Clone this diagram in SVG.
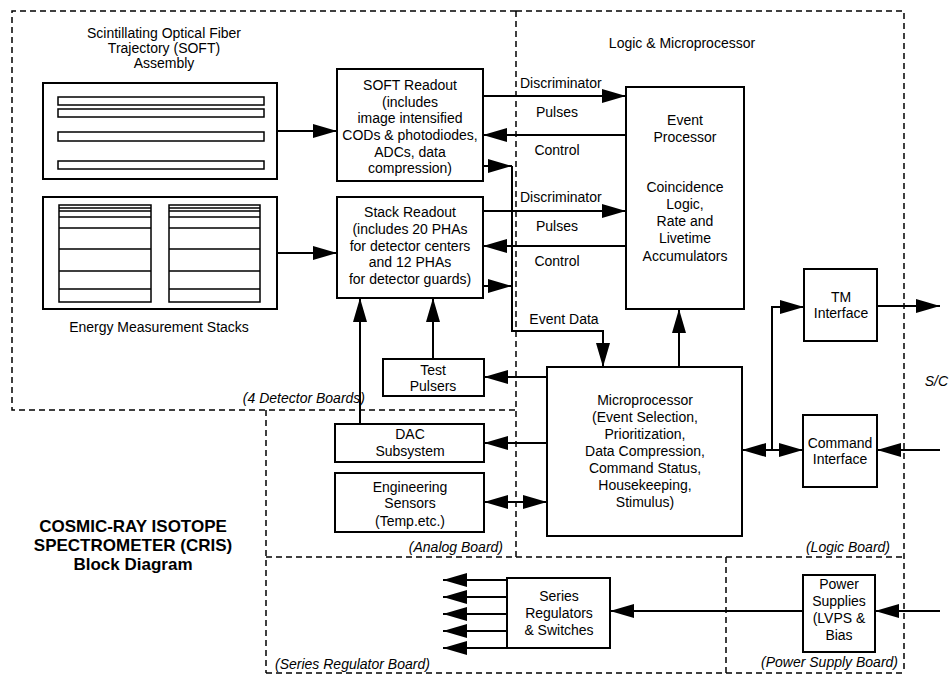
<svg xmlns="http://www.w3.org/2000/svg" width="950" height="675" viewBox="0 0 950 675">
<style>
  text { font-family: "Liberation Sans", Arial, sans-serif; font-size: 14px; fill: #000; }
  .c { text-anchor: middle; }
  .it { font-style: italic; }
  .title { font-weight: bold; font-size: 17px; text-anchor: middle; }
  .box { fill: #fff; stroke: #000; stroke-width: 2; }
  .thin { fill: none; stroke: #000; stroke-width: 1.5; }
  .dash { fill: none; stroke: #000; stroke-width: 1.5; stroke-dasharray: 6 4; }
  .wire { fill: none; stroke: #000; stroke-width: 2; }
  .arr { marker-end: url(#ah); }
  .both { marker-start: url(#ah); marker-end: url(#ah); }
</style>
<defs>
  <marker id="ah" markerUnits="userSpaceOnUse" markerWidth="24" markerHeight="14" refX="24" refY="7" orient="auto-start-reverse">
    <path d="M0,0 L24,7 L0,14 z" fill="#000"/>
  </marker>
</defs>
<rect width="950" height="675" fill="#fff"/>

<g id="boards">
  <path class="dash" d="M516,11 H12 V410 H516"/>
  <path class="dash" d="M516,11 H904 V673"/>
  <path class="dash" d="M516,11 V557"/>
  <path class="dash" d="M266,410 V673"/>
  <path class="dash" d="M266,557 H904"/>
  <path class="dash" d="M266,673 H904"/>
  <path class="dash" d="M726,557 V673"/>
  <text class="it" x="365" y="403" text-anchor="end">(4 Detector Boards)</text>
  <text class="it" x="503" y="552" text-anchor="end">(Analog Board)</text>
  <text class="it" x="890" y="552" text-anchor="end">(Logic Board)</text>
  <text class="it" x="275" y="669">(Series Regulator Board)</text>
  <text class="it" x="898" y="667" text-anchor="end">(Power Supply Board)</text>
  <text class="c" x="682" y="48">Logic &amp; Microprocessor</text>
  <text class="it" x="948" y="386" text-anchor="end">S/C</text>
</g>

<g id="title">
  <text class="title" x="133" y="532">COSMIC-RAY ISOTOPE</text>
  <text class="title" x="133" y="551">SPECTROMETER (CRIS)</text>
  <text class="title" x="133" y="570">Block Diagram</text>
</g>

<g id="soft-assembly">
  <text class="c" x="164" y="38">Scintillating Optical Fiber</text>
  <text class="c" x="164" y="53">Trajectory (SOFT)</text>
  <text class="c" x="164" y="68">Assembly</text>
  <rect class="box" x="43" y="83" width="234" height="96"/>
  <rect class="thin" x="58" y="97" width="206" height="8"/>
  <rect class="thin" x="58" y="109" width="206" height="8"/>
  <rect class="thin" x="58" y="132" width="206" height="9"/>
  <rect class="thin" x="58" y="161" width="206" height="8"/>
</g>

<g id="stacks">
  <rect class="box" x="43" y="197" width="234" height="112"/>
  <rect class="thin" x="59" y="205" width="92" height="97"/>
  <rect class="thin" x="169" y="205" width="91" height="97"/>
  <path class="thin" d="M59,208 H151 M59,211 H151 M59,217 H151 M59,228 H151 M59,249 H151 M59,271 H151 M59,289 H151"/>
  <path class="thin" d="M169,208 H260 M169,211 H260 M169,217 H260 M169,228 H260 M169,249 H260 M169,271 H260 M169,289 H260"/>
  <text class="c" x="159" y="332">Energy Measurement Stacks</text>
</g>

<g id="soft-readout">
  <rect class="box" x="337" y="69" width="146" height="112"/>
  <text class="c" x="410" y="90">SOFT Readout</text>
  <text class="c" x="410" y="107">(includes</text>
  <text class="c" x="410" y="123">image intensified</text>
  <text class="c" x="410" y="140">CODs &amp; photodiodes,</text>
  <text class="c" x="410" y="157">ADCs, data</text>
  <text class="c" x="410" y="173">compression)</text>
</g>

<g id="stack-readout">
  <rect class="box" x="337" y="197" width="146" height="101"/>
  <text class="c" x="410" y="217">Stack Readout</text>
  <text class="c" x="410" y="234">(includes 20 PHAs</text>
  <text class="c" x="410" y="251">for detector centers</text>
  <text class="c" x="410" y="267">and 12 PHAs</text>
  <text class="c" x="410" y="284">for detector guards)</text>
</g>

<g id="event-processor">
  <rect class="box" x="626" y="87" width="118" height="222"/>
  <text class="c" x="685" y="125">Event</text>
  <text class="c" x="685" y="142">Processor</text>
  <text class="c" x="685" y="192">Coincidence</text>
  <text class="c" x="685" y="209">Logic,</text>
  <text class="c" x="685" y="226">Rate and</text>
  <text class="c" x="685" y="243">Livetime</text>
  <text class="c" x="685" y="261">Accumulators</text>
</g>

<g id="microprocessor">
  <rect class="box" x="547" y="367" width="195" height="169"/>
  <text class="c" x="645" y="405">Microprocessor</text>
  <text class="c" x="645" y="422">(Event Selection,</text>
  <text class="c" x="645" y="439">Prioritization,</text>
  <text class="c" x="645" y="456">Data Compression,</text>
  <text class="c" x="645" y="473">Command Status,</text>
  <text class="c" x="645" y="490">Housekeeping,</text>
  <text class="c" x="645" y="507">Stimulus)</text>
</g>

<g id="test-pulsers">
  <rect class="box" x="383" y="359" width="101" height="37"/>
  <text class="c" x="433" y="375">Test</text>
  <text class="c" x="433" y="391">Pulsers</text>
</g>

<g id="dac">
  <rect class="box" x="335" y="424" width="149" height="38"/>
  <text class="c" x="410" y="439">DAC</text>
  <text class="c" x="410" y="456">Subsystem</text>
</g>

<g id="eng-sensors">
  <rect class="box" x="335" y="473" width="149" height="59"/>
  <text class="c" x="410" y="492">Engineering</text>
  <text class="c" x="410" y="508">Sensors</text>
  <text class="c" x="410" y="526">(Temp.etc.)</text>
</g>

<g id="tm-interface">
  <rect class="box" x="804" y="269" width="73" height="72"/>
  <text class="c" x="841" y="302">TM</text>
  <text class="c" x="841" y="318">Interface</text>
</g>

<g id="command-interface">
  <rect class="box" x="803" y="415" width="74" height="72"/>
  <text class="c" x="840" y="448">Command</text>
  <text class="c" x="840" y="464">Interface</text>
</g>

<g id="series-regulators">
  <rect class="box" x="507" y="578" width="103" height="70"/>
  <text class="c" x="559" y="601">Series</text>
  <text class="c" x="559" y="618">Regulators</text>
  <text class="c" x="559" y="635">&amp; Switches</text>
</g>

<g id="power-supplies">
  <rect class="box" x="803" y="575" width="72" height="77"/>
  <text class="c" x="839" y="589">Power</text>
  <text class="c" x="839" y="606">Supplies</text>
  <text class="c" x="839" y="623">(LVPS &amp;</text>
  <text class="c" x="839" y="640">Bias</text>
</g>

<g id="connectors">
  <path class="wire arr" d="M277,131 H337"/>
  <path class="wire arr" d="M277,253 H337"/>
  <path class="wire arr" d="M483,96 H626"/>
  <path class="wire arr" d="M626,135 H483"/>
  <path class="wire arr" d="M483,166 H512"/>
  <path class="wire arr" d="M512,166 V331 H603 V367"/>
  <path class="wire arr" d="M483,211 H626"/>
  <path class="wire arr" d="M626,246 H483"/>
  <path class="wire arr" d="M483,286 H512"/>
  <path class="wire arr" d="M679,367 V309"/>
  <path class="wire arr" d="M547,377 H484"/>
  <path class="wire arr" d="M433,359 V298"/>
  <path class="wire arr" d="M547,443 H484"/>
  <path class="wire arr" d="M360,424 V298"/>
  <path class="wire both" d="M484,502 H547"/>
  <path class="wire both" d="M742,450 H803"/>
  <path class="wire arr" d="M772,450 V307 H804"/>
  <path class="wire arr" d="M877,306 H940"/>
  <path class="wire arr" d="M940,450 H877"/>
  <path class="wire arr" d="M940,611 H875"/>
  <path class="wire arr" d="M803,611 H610"/>
  <path class="wire arr" d="M507,580 H443"/>
  <path class="wire arr" d="M507,597 H443"/>
  <path class="wire arr" d="M507,614 H443"/>
  <path class="wire arr" d="M507,631 H443"/>
  <path class="wire arr" d="M507,648 H443"/>
  <text x="520" y="88">Discriminator</text>
  <text class="c" x="557" y="117">Pulses</text>
  <text class="c" x="557" y="155">Control</text>
  <text x="520" y="202">Discriminator</text>
  <text class="c" x="557" y="231">Pulses</text>
  <text class="c" x="557" y="266">Control</text>
  <text class="c" x="564" y="324">Event Data</text>
</g>
</svg>
